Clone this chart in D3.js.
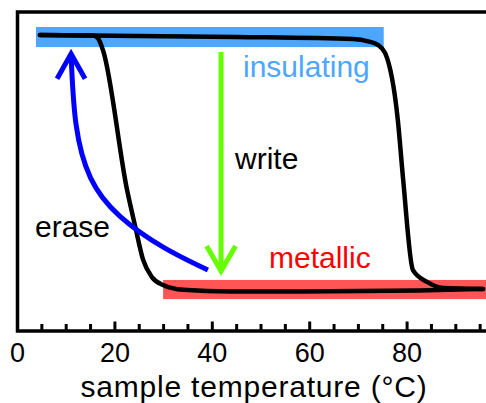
<!DOCTYPE html>
<html lang="en">
<head>
  <meta charset="UTF-8">
  <title>Hysteresis</title>
  <script src="https://cdn.jsdelivr.net/npm/d3@7"></script>
  <style>
    body { margin: 0; background: #fff; }
    text { font-family: "Liberation Sans", Arial, Helvetica, sans-serif; }
  </style>
</head>
<body>
  <div id="chart"></div>
  <script>
    // temperature (°C) and normalized resistance
    const coolT = [4.6, 15.5, 16.5, 17.6, 22.5, 24.2, 25.8, 27.6, 29.9, 34.0, 43.6, 58.0, 82.6, 95.6];
    const coolR = [0.928, 0.926, 0.918, 0.878, 0.442, 0.326, 0.223, 0.169, 0.144, 0.129, 0.124, 0.124, 0.127, 0.132];
    const heatT = [4.6, 44.9, 68.9, 72.0, 74.0, 75.5, 78.1, 79.2, 81.2, 84.1, 87.4, 95.6];
    const heatR = [0.928, 0.922, 0.915, 0.908, 0.897, 0.871, 0.661, 0.473, 0.191, 0.154, 0.135, 0.132];

    // state bands: [t0, t1, r0, r1]
    const insulatingBand = [3.8, 75.2, 0.890, 0.953];
    const metallicBand = [29.9, 100, 0.100, 0.160];

    // erase arrow path (tip last), write arrow (start, end)
    const eraseT = [39.1, 30.0, 21.0, 15.0, 12.0, 11.0];
    const eraseR = [0.191, 0.262, 0.360, 0.480, 0.650, 0.866];
    const writeT = [41.8, 41.8];
    const writeR = [0.875, 0.188];

    const majorTicks = [0, 20, 40, 60, 80];
    const minorTicks = d3.range(0, 101, 5).filter(t => t % 20 !== 0);

    const W = 486, H = 403;
    const x = d3.scaleLinear().domain([0, 100]).range([17.5, 504.5]);
    const y = d3.scaleLinear().domain([0, 1]).range([331, 12]);

    const svg = d3.select("#chart").append("svg")
      .attr("width", W).attr("height", H);

    // bands
    svg.append("rect")
      .attr("x", x(insulatingBand[0])).attr("width", x(insulatingBand[1]) - x(insulatingBand[0]))
      .attr("y", y(insulatingBand[3])).attr("height", y(insulatingBand[2]) - y(insulatingBand[3]))
      .attr("fill", "#4da6ff");
    svg.append("rect")
      .attr("x", x(metallicBand[0])).attr("width", x(metallicBand[1]) - x(metallicBand[0]))
      .attr("y", y(metallicBand[3])).attr("height", y(metallicBand[2]) - y(metallicBand[3]))
      .attr("fill", "#ff5555");

    // frame
    svg.append("rect")
      .attr("x", x(0)).attr("y", y(1))
      .attr("width", x(100) - x(0)).attr("height", y(0) - y(1))
      .attr("fill", "none").attr("stroke", "#000").attr("stroke-width", 3.5);

    // ticks (inward)
    svg.selectAll(".minor")
      .data(minorTicks)
      .join("line")
        .attr("class", "minor")
        .attr("x1", d => x(d)).attr("x2", d => x(d))
        .attr("y1", y(0)).attr("y2", y(0) - 7)
        .attr("stroke", "#000").attr("stroke-width", 3);
    svg.selectAll(".major")
      .data(majorTicks)
      .join("line")
        .attr("class", "major")
        .attr("x1", d => x(d)).attr("x2", d => x(d))
        .attr("y1", y(0)).attr("y2", y(0) - 9.5)
        .attr("stroke", "#000").attr("stroke-width", 3);
    svg.selectAll(".tlbl")
      .data(majorTicks)
      .join("text")
        .attr("class", "tlbl")
        .attr("x", d => x(d)).attr("y", 362)
        .attr("text-anchor", "middle")
        .style("font-size", "27px")
        .text(d => d);

    svg.append("text")
      .attr("x", 254).attr("y", 397)
      .attr("text-anchor", "middle")
      .style("font-size", "30px")
      .style("letter-spacing", "0.8px")
      .text("sample temperature (°C)");

    // resistance curves
    const line = d3.line()
      .x(d => x(d[0])).y(d => y(d[1]))
      .curve(d3.curveMonotoneX);
    [[coolT, coolR], [heatT, heatR]].forEach(([ts, rs]) => {
      svg.append("path")
        .datum(d3.zip(ts, rs))
        .attr("d", line)
        .attr("fill", "none").attr("stroke", "#000")
        .attr("stroke-width", 4.5)
        .attr("stroke-linecap", "round").attr("stroke-linejoin", "round");
    });

    // erase arrow
    const eraseLine = d3.line().x(d => x(d[0])).y(d => y(d[1])).curve(d3.curveNatural);
    const erasePts = d3.zip(eraseT, eraseR);
    svg.append("path")
      .datum(erasePts)
      .attr("d", eraseLine)
      .attr("fill", "none").attr("stroke", "#0000ff").attr("stroke-width", 5);
    const eTip = erasePts[erasePts.length - 1];
    const ex = x(eTip[0]), ey = y(eTip[1]) - 1;
    svg.append("path")
      .attr("d", `M${ex - 14},${ey + 25}L${ex},${ey}L${ex + 14},${ey + 25}`)
      .attr("fill", "none").attr("stroke", "#0000ff").attr("stroke-width", 5);

    // write arrow
    const wx = x(writeT[0]);
    svg.append("line")
      .attr("x1", wx).attr("x2", x(writeT[1]))
      .attr("y1", y(writeR[0])).attr("y2", y(writeR[1]) - 2)
      .attr("stroke", "#66ff00").attr("stroke-width", 5);
    const wy = y(writeR[1]);
    svg.append("path")
      .attr("d", `M${wx - 14.5},${wy - 25}L${wx},${wy}L${wx + 14.5},${wy - 25}`)
      .attr("fill", "none").attr("stroke", "#66ff00").attr("stroke-width", 5);

    // labels
    const labels = [
      { text: "insulating", px: 243, py: 77, color: "#4da6ff" },
      { text: "write", px: 235, py: 169, color: "#000" },
      { text: "erase", px: 35, py: 237, color: "#000" },
      { text: "metallic", px: 269, py: 268, color: "#ff0000" }
    ];
    svg.selectAll(".lbl")
      .data(labels)
      .join("text")
        .attr("class", "lbl")
        .attr("x", d => d.px).attr("y", d => d.py)
        .attr("fill", d => d.color)
        .style("font-size", "30px")
        .text(d => d.text);
  </script>
</body>
</html>
